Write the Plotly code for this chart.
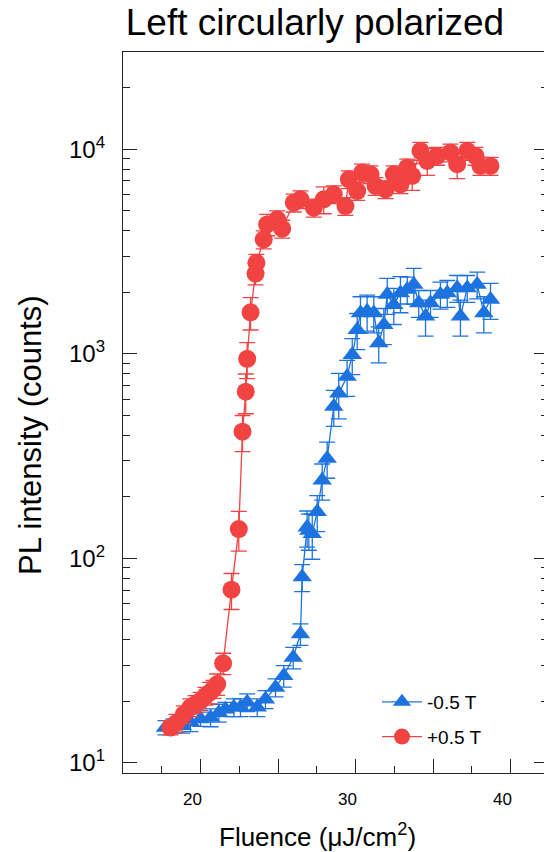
import plotly.graph_objects as go

# ---- data ----
red_x = [18.06, 18.45, 18.92, 19.35, 19.68, 20.0, 20.32, 20.6, 20.84, 21.08, 21.46, 22.0,
         22.47, 22.71, 22.92, 23.01, 23.23, 23.55, 23.61, 24.08, 24.30, 24.95, 25.27, 26.02,
         26.45, 27.31, 27.95, 28.6, 29.35, 29.57, 30.11, 30.43, 30.97, 31.29, 31.94, 32.47,
         32.90, 33.34, 33.66, 34.19, 34.63, 35.27, 36.13, 36.56, 37.21, 37.74, 38.06, 38.71]
red_y = [14.9, 15.7, 17.3, 18.7, 19.4, 20.1, 21.3, 22.1, 23.0, 24.3, 30.7, 70.3,
         139, 416, 653, 945, 1594, 2466, 2784, 3622, 4290, 4540, 4086, 5480,
         5688, 5178, 5688, 6018, 5272, 7128, 6245, 7690, 7542, 6608, 6365, 7542,
         6737, 8135, 7398, 9810, 8762, 9272, 9634, 8443, 9810, 9272, 8282, 8282]
red_rel_err = [0.08, 0.1, 0.1, 0.1, 0.1, 0.1, 0.1, 0.12, 0.1, 0.12, 0.12, 0.2,
               0.22, 0.2, 0.22, 0.2, 0.18, 0.12, 0.1, 0.1, 0.12, 0.1, 0.1, 0.1,
               0.1, 0.1, 0.15, 0.1, 0.1, 0.1, 0.1, 0.1, 0.1, 0.1, 0.1, 0.1,
               0.1, 0.1, 0.15, 0.1, 0.15, 0.1, 0.1, 0.15, 0.1, 0.1, 0.1, 0.1]

blue_x = [17.74, 18.28, 18.82, 19.35, 20.0, 20.65, 21.18, 21.61, 22.15, 22.58, 23.01, 23.66,
          24.19, 24.84, 25.37, 25.98, 26.45, 26.56, 26.88, 26.99, 27.21, 27.53, 27.85, 28.17,
          28.6, 28.92, 29.46, 29.79, 30.11, 30.32, 30.75, 31.18, 31.50, 31.83, 32.05, 32.47,
          32.90, 33.34, 33.76, 34.08, 34.52, 34.84, 35.48, 35.92, 36.56, 36.77, 37.21, 37.85,
          38.28, 38.71]
blue_y = [14.9, 15.2, 15.2, 15.8, 16.4, 16.7, 17.6, 18.3, 18.7, 18.7, 19.8, 18.7,
          20.5, 23.4, 26.7, 32.8, 42.7, 81, 142, 137, 132, 169, 241, 308,
          552, 641, 774, 989, 1311, 1583, 1612, 1583, 1128, 1387, 1946, 1738,
          1984, 2060, 2180, 1773, 1524, 1773, 1946, 1984, 2099, 1524, 2099, 2180,
          1583, 1841]
blue_rel_err = [0.08, 0.08, 0.08, 0.1, 0.08, 0.1, 0.1, 0.08, 0.1, 0.1, 0.1, 0.1,
                0.1, 0.1, 0.12, 0.12, 0.12, 0.15, 0.2, 0.2, 0.25, 0.2, 0.2, 0.2,
                0.2, 0.25, 0.2, 0.2, 0.2, 0.2, 0.2, 0.2, 0.2, 0.2, 0.2, 0.2,
                0.2, 0.15, 0.2, 0.15, 0.2, 0.15, 0.15, 0.15, 0.15, 0.2, 0.15, 0.15,
                0.2, 0.2]

blue_name = "-0.5 T"
red_name = "+0.5 T"
title_text = "Left circularly polarized"
x_title = "Fluence (μJ/cm<sup>2</sup>)"
y_title = "PL intensity (counts)"

x_major = [20, 25, 30, 35, 40]
x_major_text = ["20", "", "30", "", "40"]
x_minor = [17.5, 22.5, 27.5, 32.5, 37.5, 42.5]
y_major = [10, 100, 1000, 10000]
y_major_text = ["10<sup>1</sup>", "10<sup>2</sup>", "10<sup>3</sup>", "10<sup>4</sup>"]
y_minor = [m * d for d in (1, 10, 100, 1000, 10000) for m in (2, 3, 4, 5, 6, 7, 8, 9)]

RED = "#F24343"
BLUE = "#1C73E0"
AX = "#222"
FONT = "Liberation Sans, Arial, sans-serif"

# plot area in pixels (for placing texts)
L, R, T, B = 123, 544, 52, 773
def px_x(p):
    return (p - L) / (R - L)
def px_y(p):
    return (B - p) / (B - T)

fig = go.Figure()

fig.add_trace(go.Scatter(
    x=blue_x, y=blue_y, name=blue_name, mode="lines+markers",
    line=dict(color=BLUE, width=1.3),
    marker=dict(symbol="triangle-up", size=17, color=BLUE),
    error_y=dict(type="data", array=[v * e for v, e in zip(blue_y, blue_rel_err)],
                 color=BLUE, thickness=1.3, width=8),
    legendgroup="b",
))
fig.add_trace(go.Scatter(
    x=red_x, y=red_y, name=red_name, mode="lines+markers",
    line=dict(color=RED, width=1.3),
    marker=dict(symbol="circle", size=18, color=RED),
    error_y=dict(type="data", array=[v * e for v, e in zip(red_y, red_rel_err)],
                 color=RED, thickness=1.3, width=8),
    legendgroup="r",
))
# empty trace to carry the right-hand tick axis
fig.add_trace(go.Scatter(x=[None], y=[None], yaxis="y2", showlegend=False, hoverinfo="skip"))

fig.update_layout(
    width=544, height=852,
    margin=dict(l=L, r=544 - R, t=T, b=852 - B, autoexpand=False),
    paper_bgcolor="white", plot_bgcolor="white",
    font=dict(family=FONT, color="black"),
    title=dict(text=title_text, x=315 / 544, xanchor="center",
               xref="container", y=1 - 22 / 852, yanchor="middle",
               font=dict(size=37, family=FONT, color="black")),
    xaxis=dict(
        range=[15, 15 + 421 / 15.5], automargin=False,
        showline=True, linecolor=AX, linewidth=1.3, mirror=True,
        ticks="inside", ticklen=14, tickwidth=1.3, tickcolor=AX,
        tickmode="array", tickvals=x_major, ticktext=x_major_text,
        ticklabelshift=-8, ticklabelstandoff=10,
        tickfont=dict(size=17, family=FONT, color="black"),
        minor=dict(tickmode="array", tickvals=x_minor, ticks="inside", ticklen=7,
                   tickwidth=1.3, tickcolor=AX),
        showgrid=False, zeroline=False,
    ),
    yaxis=dict(
        type="log", range=[0.951, 4.475], automargin=False,
        showline=True, linecolor=AX, linewidth=1.3, mirror=False,
        ticks="inside", ticklen=14, tickwidth=1.3, tickcolor=AX,
        tickmode="array", tickvals=y_major, ticktext=y_major_text,
        ticklabelstandoff=12,
        tickfont=dict(size=24, family=FONT, color="black"),
        minor=dict(tickmode="array", tickvals=y_minor, ticks="inside", ticklen=7,
                   tickwidth=1.3, tickcolor=AX),
        showgrid=False, zeroline=False,
    ),
    yaxis2=dict(
        type="log", range=[0.951, 4.475], overlaying="y", side="right", automargin=False,
        showline=False, ticks="inside", ticklen=10, tickwidth=1.3, tickcolor=AX,
        tickmode="array", tickvals=y_major, showticklabels=False,
        minor=dict(tickmode="array", tickvals=y_minor, ticks="inside", ticklen=3,
                   tickwidth=1.3, tickcolor=AX),
        showgrid=False, zeroline=False,
    ),
    legend=dict(x=px_x(377), xanchor="left", xref="paper",
                y=px_y(683), yanchor="top", yref="paper",
                bgcolor="rgba(0,0,0,0)", font=dict(size=19, family=FONT, color="black"),
                tracegroupgap=7, itemwidth=40),
    showlegend=True,
    annotations=[
        dict(text=y_title, xref="paper", yref="paper", x=px_x(30), y=px_y(435),
             xanchor="center", yanchor="middle", textangle=-90, showarrow=False,
             font=dict(size=31, family=FONT, color="black")),
        dict(text=x_title, xref="paper", yref="paper", x=px_x(317), y=px_y(835),
             xanchor="center", yanchor="middle", showarrow=False,
             font=dict(size=26, family=FONT, color="black")),
    ],
)

fig.write_html("out.html")
